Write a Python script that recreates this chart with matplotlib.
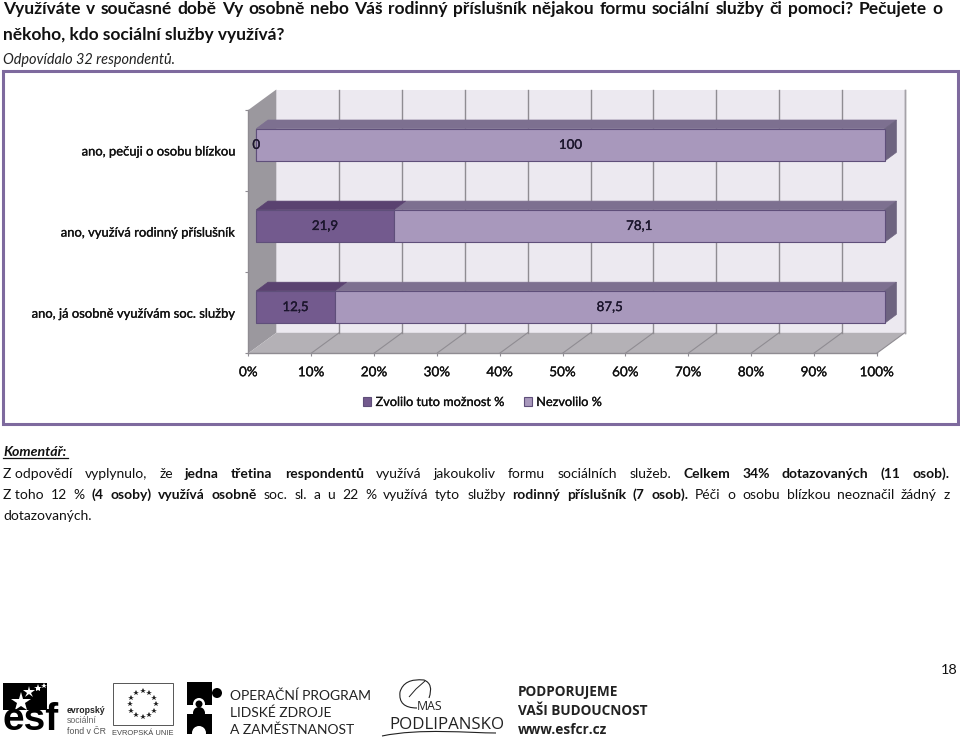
import matplotlib
matplotlib.use("Agg")
import matplotlib.pyplot as plt
import matplotlib.patheffects as pe
from matplotlib.patches import Polygon, Rectangle, Circle, PathPatch
from matplotlib.path import Path
from matplotlib.transforms import ScaledTranslation
import numpy as np

plt.rcParams['font.family'] = ['Lato', 'DejaVu Sans']

categories = ["ano, pečuji o osobu blízkou", "ano, využívá rodinný příslušník", "ano, já osobně využívám soc. služby"]
selected = [0, 21.9, 12.5]
not_selected = [100, 78.1, 87.5]
series_names = ["Zvolilo tuto možnost %", "Nezvolilo %"]
x_ticks = [0, 10, 20, 30, 40, 50, 60, 70, 80, 90, 100]

title_l1 = "Využíváte v současné době Vy osobně nebo Váš rodinný příslušník nějakou formu sociální služby či pomoci? Pečujete o"
title_l2 = "někoho, kdo sociální služby využívá?"
subtitle = "Odpovídalo 32 respondentů."
comment_head = "Komentář:"
comment_l1 = [("Z\u00a0odpovědí vyplynulo, že", "normal"), ("jedna třetina respondentů", "bold"),
              ("využívá jakoukoliv formu sociálních služeb.", "normal"),
              ("Celkem 34% dotazovaných (11 osob).", "bold")]
comment_l2 = [("Z\u00a0toho 12 %", "normal"), ("(4 osoby) využívá osobně", "bold"), ("soc. sl. a u 22 % využívá tyto služby", "normal"),
              ("rodinný příslušník (7 osob).", "bold"), ("Péči o osobu blízkou neoznačil žádný z", "normal")]
comment_l3 = "dotazovaných."

W, H = 960, 739
DPI = 100
fig = plt.figure(figsize=(W / DPI, H / DPI), dpi=DPI, facecolor="white")

pg = fig.add_axes([0, 0, 1, 1], zorder=0)
pg.set_xlim(0, W)
pg.set_ylim(H, 0)
pg.axis("off")
renderer = fig.canvas.get_renderer()
INK = "#111111"
SEMI = [pe.withStroke(linewidth=0.2, foreground="#111111")]


def justified(words, x0, x1, y, size):
    items = []
    for w, weight in words:
        t = pg.text(x0, y, w, fontsize=size, fontweight=weight, color=INK, va="baseline", ha="left")
        items.append((t, t.get_window_extent(renderer).width))
    gap = (x1 - x0 - sum(i[1] for i in items)) / max(len(items) - 1, 1)
    x = x0
    for t, wd in items:
        t.set_x(x)
        x += wd + gap


def split(segments):
    return [(w, weight) for seg, weight in segments for w in seg.split(" ")]


TS = 12.5
BS = 10.0
justified([(w, "bold") for w in title_l1.split(" ")], 3, 942, 14, TS)
pg.text(3, 40, title_l2, fontsize=TS, fontweight="bold", color=INK, va="baseline")
pg.text(3, 64, subtitle, fontsize=10.45, style="italic", color="#222222", va="baseline")

pg.text(3, 456, comment_head, fontsize=10.2, fontweight="bold", style="italic", color=INK, va="baseline")
pg.plot([3, 68], [458, 458], color=INK, lw=0.9)
justified(split(comment_l1), 3, 950, 478, BS)
justified(split(comment_l2), 3, 950, 499, BS)
pg.text(3, 520, comment_l3, fontsize=BS, color=INK, va="baseline")
pg.text(958, 674, "18", fontsize=10.4, color=INK, ha="right", va="baseline")

pg.add_patch(Rectangle((2.5, 70.5), 955, 353, fc="white", ec="#7E6A9E", lw=2.2))

# footer logos (simplified)
pg.add_patch(Rectangle((3, 683), 44, 27, fc="black", ec="none"))
for (sx, sy, ms) in [(21, 702, 15), (29, 692, 9), (38, 688, 6), (44, 686, 4)]:
    pg.plot(sx, sy, marker="*", ms=ms, color="white", mew=0)
pg.text(3, 730, "esf", fontsize=28, fontweight="bold", family="Liberation Sans", color="black", va="baseline")
for yy, s, c in [(713, "evropský", "#222222"), (723, "sociální", "#666666"), (734, "fond v ČR", "#555555")]:
    pg.text(67, yy, s, fontsize=6.3, family="Liberation Sans", color=c, fontweight="bold" if yy == 713 else "normal")
pg.add_patch(Rectangle((112.5, 683), 60, 42, fc="white", ec="#555555", lw=0.7))
th = np.deg2rad(np.arange(0, 360, 30))
pg.plot(142.5 + 13 * np.cos(th), 704 + 13 * np.sin(th), ls="none", marker="*", ms=4, color="#222222", mew=0)
pg.text(142.5, 735, "EVROPSKÁ UNIE", fontsize=5.4, family="Liberation Sans", color="#444444", ha="center")
pg.add_patch(Rectangle((187, 682), 25, 23, fc="black", ec="none"))
pg.add_patch(Circle((217, 693), 5, fc="black", ec="none"))
pg.add_patch(Circle((199, 704), 6, fc="white", ec="none"))
pg.add_patch(Circle((199, 704), 3.5, fc="black", ec="none"))
pg.add_patch(Rectangle((187, 714), 25, 20, fc="black", ec="none"))
pg.add_patch(Circle((199, 713), 6, fc="black", ec="none"))
pg.add_patch(Circle((199, 733), 7, fc="white", ec="none"))
for yy, s in [(700, "OPERAČNÍ PROGRAM"), (717, "LIDSKÉ ZDROJE"), (734, "A ZAMĚSTNANOST")]:
    pg.text(230, yy, s, fontsize=10.0, color="#222222")
pg.add_patch(PathPatch(Path([(417, 708), (398, 708), (400, 692), (404, 678), (424, 680), (434, 684), (429, 698)],
                            [1, 3, 3, 3, 3, 3, 3]), fc="none", ec="#222222", lw=0.8))
pg.add_patch(PathPatch(Path([(409, 697), (416, 689), (425, 681)], [1, 2, 2]), fc="none", ec="#222222", lw=0.7))
pg.text(417, 710, "MAS", fontsize=8.8, family="Open Sans", color="#222222")
pg.text(389, 729, "PODLIPANSKO", fontsize=12.2, family="Open Sans", color="#222222")
pg.add_patch(PathPatch(Path([(382, 736), (420, 728), (470, 733), (496, 733)], [1, 4, 4, 4]), fc="none", ec="#222222", lw=0.8))
for yy, s in [(696, "PODPORUJEME"), (715, "VAŠI BUDOUCNOST"), (734, "www.esfcr.cz")]:
    pg.text(518, yy, s, fontsize=9.8, fontweight="bold", family="Open Sans", color="#222222")

L, R, T, B = 248.3, 876.7, 110.0, 353.3
ax = fig.add_axes([L / W, 1 - B / H, (R - L) / W, (B - T) / H], zorder=2)
ax.patch.set_alpha(0)
ax.set_xlim(0, 100)
ax.set_ylim(3, 0)
PX = 100 / (R - L)
PY = 3 / (B - T)
DX, DY = 28 * PX, 20.5 * PY

ax.add_patch(Polygon([(DX, -DY), (100 + DX, -DY), (100 + DX, 3 - DY), (DX, 3 - DY)], fc="#ECE9F0", ec="none", clip_on=False, zorder=1))
ax.add_patch(Polygon([(0, 0), (DX, -DY), (DX, 3 - DY), (0, 3)], fc="#9B989E", ec="none", clip_on=False, zorder=1))
ax.add_patch(Polygon([(0, 3), (100, 3), (100 + DX, 3 - DY), (DX, 3 - DY)], fc="#B4B1B6", ec="none", clip_on=False, zorder=1))
for v in x_ticks[1:]:
    ax.plot([v + DX, v + DX], [-DY, 3 - DY], color="#8F8C92", lw=1.0, clip_on=False, zorder=2)
    ax.plot([v, v + DX], [3, 3 - DY], color="#8F8C92", lw=0.8, clip_on=False, zorder=2)
ax.plot([100 + DX] * 2, [-DY, 3 - DY], color="#A5A2A8", lw=1.0, clip_on=False, zorder=2)
ax.plot([0, 0], [0, 3], color="#8F8C92", lw=1.0, clip_on=False, zorder=2)

y_pos = np.arange(len(categories)) + 0.5
bar_h = 32.3 * PY
shift = ax.transData + ScaledTranslation(8 / DPI, 5.7 / DPI, fig.dpi_scale_trans)
BDX, BDY = 11.7 * PX, 8.7 * PY
C_DARK, C_LIGHT = "#735A8E", "#A898BC"
T_DARK, T_LIGHT = "#5A4270", "#7D7090"
SIDE = "#6E6480"
EDGE = "#5F4F7A"


def top_face(left, width, y, fc):
    top = y - bar_h / 2
    ax.add_patch(Polygon([(left, top), (left + width, top), (left + width + BDX, top - BDY), (left + BDX, top - BDY)],
                         fc=fc, ec=fc, lw=0.5, transform=shift, clip_on=False, zorder=3))


b1 = ax.barh(y_pos, selected, height=bar_h, color=C_DARK, edgecolor=EDGE, linewidth=0.8, label=series_names[0], zorder=4)
b2 = ax.barh(y_pos, not_selected, left=selected, height=bar_h, color=C_LIGHT, edgecolor=EDGE, linewidth=0.8, label=series_names[1], zorder=4)
for r in list(b1) + list(b2):
    r.set_transform(shift)
    r.set_clip_on(False)

for y, a, b in zip(y_pos, selected, not_selected):
    top_face(a, b, y, T_LIGHT)
    if a > 0:
        top_face(0, a, y, T_DARK)
    e = a + b
    top = y - bar_h / 2
    bot = y + bar_h / 2
    ax.add_patch(Polygon([(e, top), (e + BDX, top - BDY), (e + BDX, bot - BDY), (e, bot)],
                         fc=SIDE, ec=SIDE, lw=0.5, transform=shift, clip_on=False, zorder=3))
    for left, val in ((0, a), (a, b)):
        ax.text(left + val / 2, y, f"{val:g}".replace(".", ","), transform=shift, ha="center", va="center",
                fontsize=9.6, color="#1c1530", zorder=6, clip_on=False, path_effects=SEMI)

for s in ("top", "left", "right"):
    ax.spines[s].set_visible(False)
ax.spines["bottom"].set_color("#8F8C92")
ax.spines["bottom"].set_linewidth(1.0)
ax.set_xticks(x_ticks, [f"{v}%" for v in x_ticks])
ax.set_yticks(y_pos, categories)
ax.set_yticks(np.arange(0, 4), minor=True)
ax.tick_params(axis="x", length=2, width=0.8, color="#8F8C92", pad=7.3, labelsize=9.7, labelcolor=INK)
ax.tick_params(axis="y", which="major", length=0, pad=9.4, labelsize=9.35, labelcolor=INK)
ax.tick_params(axis="y", which="minor", length=2, width=0.8, color="#8F8C92")
for lb in ax.get_xticklabels() + ax.get_yticklabels():
    lb.set_path_effects(SEMI)

leg = ax.legend(handles=[b1, b2], loc="center", bbox_to_anchor=((482.5 - L) / (R - L), (B - 402) / (B - T)),
                ncol=2, frameon=False, fontsize=9.15, handlelength=0.63, handleheight=0.63, handletextpad=0.35,
                columnspacing=1.5, borderpad=0, borderaxespad=0)
for t in leg.get_texts():
    t.set_color(INK)
    t.set_path_effects(SEMI)

fig.savefig("out.png", dpi=DPI)
